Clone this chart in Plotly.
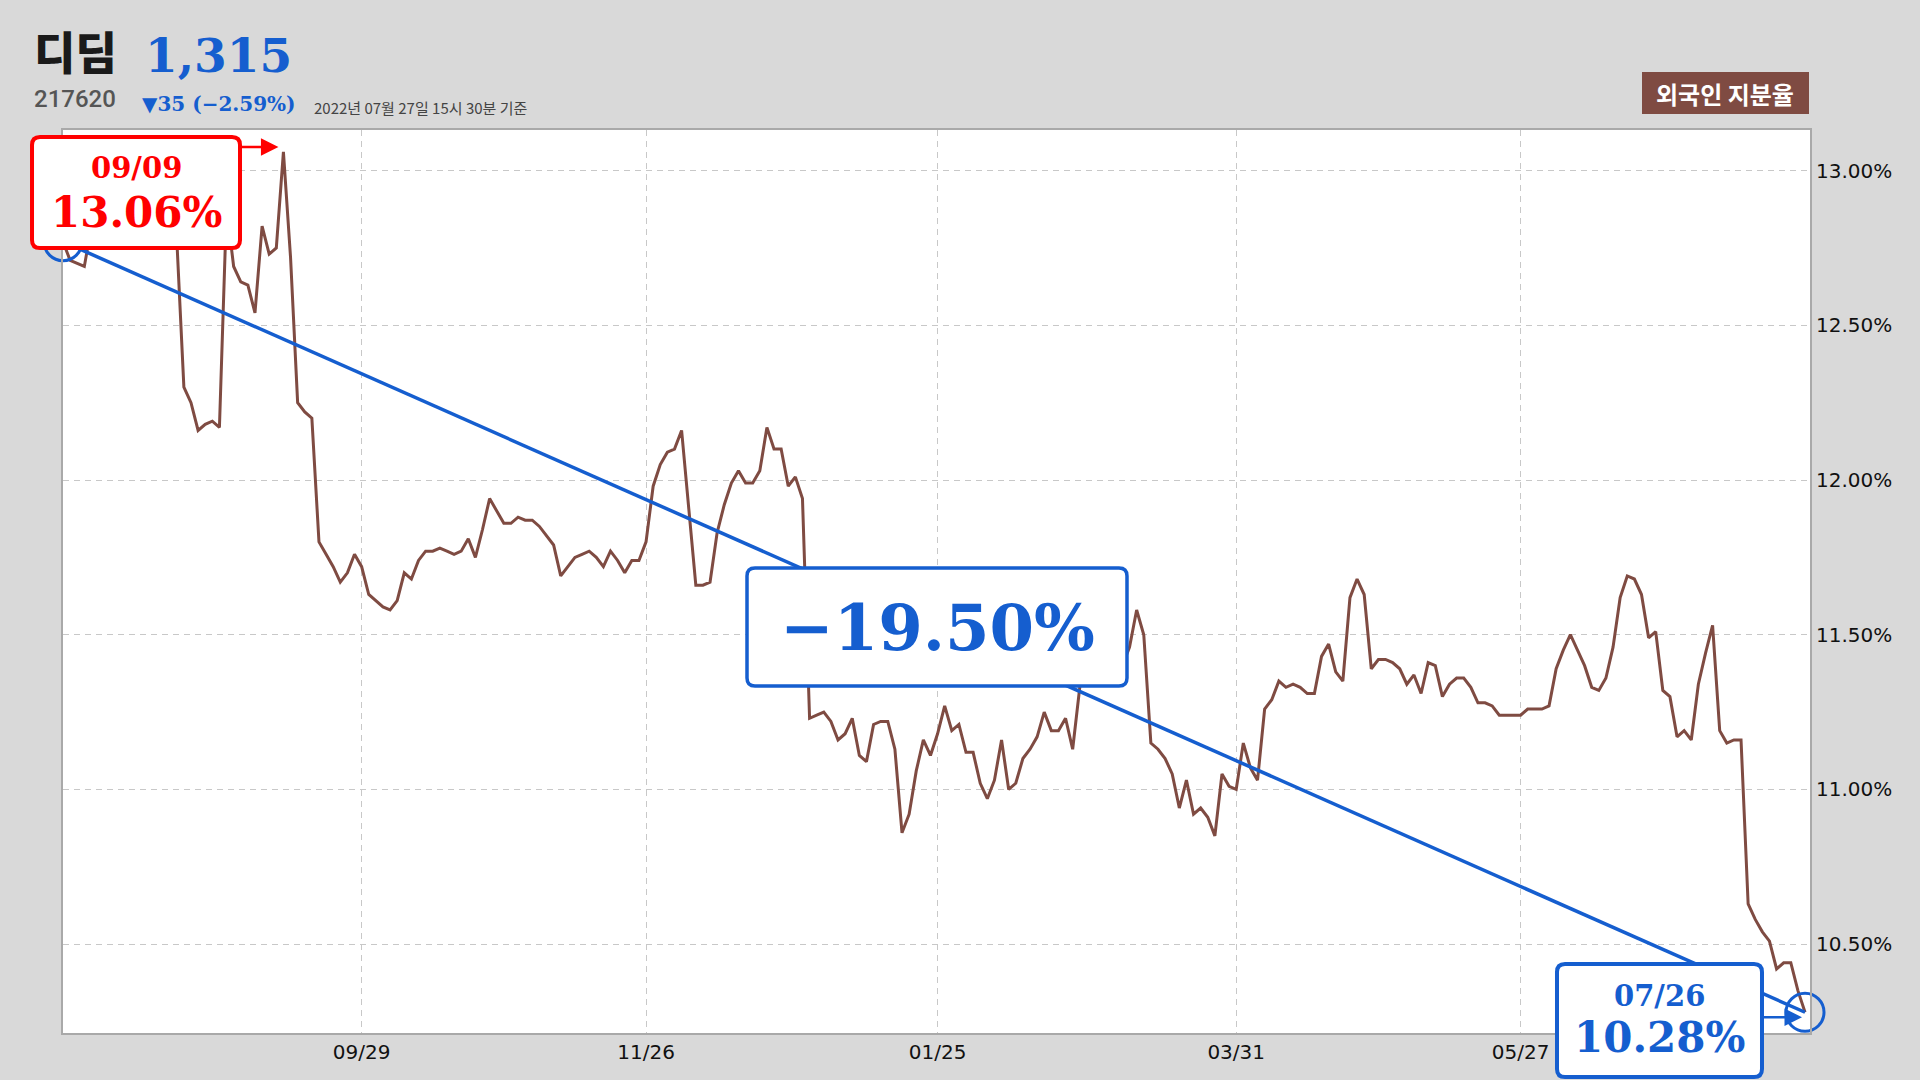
import plotly.graph_objects as go
import pandas as pd

# ---------------- data ----------------
krx_holidays = [
    "2021-08-16", "2021-09-20", "2021-09-21", "2021-09-22", "2021-10-04",
    "2021-10-11", "2021-12-31", "2022-01-31", "2022-02-01", "2022-02-02",
    "2022-03-01", "2022-03-09", "2022-05-05", "2022-06-01", "2022-06-06",
]
dates = [d.strftime("%Y-%m-%d") for d in pd.bdate_range("2021-07-27", "2022-07-26")
         if d.strftime("%Y-%m-%d") not in krx_holidays]

foreign_ratio = [
    12.77, 12.71, 12.70, 12.69, 12.82, 12.86, 12.84, 12.88, 12.90, 12.87,
    12.85, 12.88, 12.92, 12.89, 12.86, 12.84, 12.78, 12.30, 12.25, 12.16,
    12.18, 12.19, 12.17, 12.88, 12.69, 12.64, 12.63, 12.54, 12.82, 12.73,
    12.75, 13.06, 12.72, 12.25, 12.22, 12.20, 11.80, 11.76, 11.72, 11.67,
    11.70, 11.76, 11.72, 11.63, 11.61, 11.59, 11.58, 11.61, 11.70, 11.68,
    11.74, 11.77, 11.77, 11.78, 11.77, 11.76, 11.77, 11.81, 11.75, 11.84,
    11.94, 11.90, 11.86, 11.86, 11.88, 11.87, 11.87, 11.85, 11.82, 11.79,
    11.69, 11.72, 11.75, 11.76, 11.77, 11.75, 11.72, 11.77, 11.74, 11.70,
    11.74, 11.74, 11.80, 11.98, 12.05, 12.09, 12.10, 12.16, 11.91, 11.66,
    11.66, 11.67, 11.83, 11.92, 11.99, 12.03, 11.99, 11.99, 12.03, 12.17,
    12.10, 12.10, 11.98, 12.01, 11.94, 11.23, 11.24, 11.25, 11.22, 11.16,
    11.18, 11.23, 11.11, 11.09, 11.21, 11.22, 11.22, 11.13, 10.86, 10.92,
    11.06, 11.16, 11.11, 11.18, 11.27, 11.19, 11.21, 11.12, 11.12, 11.02,
    10.97, 11.03, 11.16, 11.00, 11.02, 11.10, 11.13, 11.17, 11.25, 11.19,
    11.19, 11.23, 11.13, 11.33, 11.45, 11.40, 11.42, 11.38, 11.44, 11.40,
    11.46, 11.58, 11.50, 11.15, 11.13, 11.10, 11.05, 10.94, 11.03, 10.92,
    10.94, 10.91, 10.85, 11.05, 11.01, 11.00, 11.15, 11.07, 11.03, 11.26,
    11.29, 11.35, 11.33, 11.34, 11.33, 11.31, 11.31, 11.43, 11.47, 11.38,
    11.35, 11.62, 11.68, 11.63, 11.39, 11.42, 11.42, 11.41, 11.39, 11.34,
    11.37, 11.31, 11.41, 11.40, 11.30, 11.34, 11.36, 11.36, 11.33, 11.28,
    11.28, 11.27, 11.24, 11.24, 11.24, 11.24, 11.26, 11.26, 11.26, 11.27,
    11.39, 11.45, 11.50, 11.45, 11.40, 11.33, 11.32, 11.36, 11.46, 11.62,
    11.69, 11.68, 11.63, 11.49, 11.51, 11.32, 11.30, 11.17, 11.19, 11.16,
    11.34, 11.44, 11.53, 11.19, 11.15, 11.16, 11.16, 10.63, 10.58, 10.54,
    10.51, 10.42, 10.44, 10.44, 10.35, 10.28,
]

tick_dates = ["2021-09-29", "2021-11-26", "2022-01-25", "2022-03-31", "2022-05-27"]
y_ticks = [10.5, 11.0, 11.5, 12.0, 12.5, 13.0]

stock_name = "디딤"
stock_code = "217620"
price_text = "1,315"
change_text = "▼35 (−2.59%)"
asof_text = "2022년 07월 27일 15시 30분 기준"
badge_text = "외국인 지분율"

# ---------------- derived ----------------
n = len(foreign_ratio)
xs = list(range(n))
tickvals = [dates.index(d) for d in tick_dates]
ticktext = [d[5:].replace("-", "/") for d in tick_dates]
y_ticktext = [f"{v:.2f}%" for v in y_ticks]
imax = max(range(n), key=lambda i: foreign_ratio[i])
vmax = foreign_ratio[imax]
v0, vl = foreign_ratio[0], foreign_ratio[-1]
chg = (vl / v0 - 1) * 100
chg_text = f"{chg:.2f}%".replace("-", "−")

BROWN = "#7f4b42"
BLUE = "#155ecf"
RED = "#ff0000"
BG = "#d9d9d9"

W, H = 1920, 1080
L, R, T, B = 63, 110, 130, 47
PW, PH = W - L - R, H - T - B


def fx(px):
    return (px - L) / PW


def fy(py):
    return (H - B - py) / PH


def rrect(x0, y0, x1, y1, r):
    def p(x, y):
        return f"{fx(x):.5f},{fy(y):.5f}"
    return (f"M {p(x0 + r, y0)} L {p(x1 - r, y0)} Q {p(x1, y0)} {p(x1, y0 + r)} "
            f"L {p(x1, y1 - r)} Q {p(x1, y1)} {p(x1 - r, y1)} "
            f"L {p(x0 + r, y1)} Q {p(x0, y1)} {p(x0, y1 - r)} "
            f"L {p(x0, y0 + r)} Q {p(x0, y0)} {p(x0 + r, y0)} Z")


fig = go.Figure()
fig.add_trace(go.Scatter(x=xs, y=foreign_ratio, mode="lines",
                         line=dict(color=BROWN, width=3), hoverinfo="skip"))
fig.add_trace(go.Scatter(x=[0, n - 1], y=[v0, vl], mode="lines",
                         line=dict(color=BLUE, width=3.5), hoverinfo="skip"))
fig.add_trace(go.Scatter(x=[0, n - 1], y=[v0, vl], mode="markers", cliponaxis=False,
                         marker=dict(symbol="circle-open", size=38, color=BLUE,
                                     line=dict(width=3, color=BLUE)),
                         hoverinfo="skip"))

shapes = [
    dict(type="path", xref="paper", yref="paper", path=rrect(32, 137, 240, 248, 8),
         fillcolor="white", line=dict(color=RED, width=4), layer="above"),
    dict(type="path", xref="paper", yref="paper", path=rrect(1557, 964, 1762, 1077, 8),
         fillcolor="white", line=dict(color=BLUE, width=4), layer="above"),
    dict(type="path", xref="paper", yref="paper", path=rrect(747, 568, 1127, 686, 8),
         fillcolor="white", line=dict(color=BLUE, width=3.5), layer="above"),
    dict(type="rect", xref="paper", yref="paper", x0=fx(1642), x1=fx(1809),
         y0=fy(114), y1=fy(72), fillcolor=BROWN, line=dict(width=0), layer="above"),
]

SERIF = "DejaVu Serif"
KR = "Noto Sans CJK KR"


def txt(text, px, py, size, color, family, weight="bold", xanchor="center"):
    return dict(text=text, x=fx(px), y=fy(py), xref="paper", yref="paper",
                xanchor=xanchor, yanchor="middle", showarrow=False,
                font=dict(size=size, color=color, family=family, weight=weight))


annotations = [
    txt(dates[imax][5:].replace("-", "/"), 136, 168, 29, RED, SERIF),
    txt(f"{vmax:.2f}%", 136, 213, 42, RED, SERIF),
    txt(dates[-1][5:].replace("-", "/"), 1659, 996, 29, BLUE, SERIF),
    txt(f"{vl:.2f}%", 1659, 1037, 42, BLUE, SERIF),
    txt(chg_text, 937, 627, 64, BLUE, SERIF),
    txt(stock_name, 32, 51, 45, "#1a1a1a", KR, weight=900, xanchor="left"),
    txt(price_text, 143, 56, 47, BLUE, SERIF, xanchor="left"),
    txt(stock_code, 32, 99, 24, "#555555", "Roboto", weight=500, xanchor="left"),
    txt(change_text, 140, 104, 20, BLUE, SERIF, xanchor="left"),
    txt(asof_text, 312, 107, 15, "#444444", KR, weight="normal", xanchor="left"),
    txt(badge_text, 1725, 93, 24, "white", KR),
    # arrows pointing to max and last
    dict(x=imax, y=vmax, xref="x", yref="y", text="", showarrow=True,
         ax=-38, ay=0, axref="pixel", ayref="pixel", xshift=-5, yshift=5,
         arrowcolor=RED, arrowwidth=2.5, arrowhead=2, arrowsize=1.4, standoff=0),
    dict(x=n - 1, y=vl, xref="x", yref="y", text="", showarrow=True,
         ax=-40, ay=0, axref="pixel", ayref="pixel", xshift=-3, yshift=-5,
         arrowcolor=BLUE, arrowwidth=2.5, arrowhead=2, arrowsize=1.4, standoff=0),
]

fig.update_layout(
    width=W, height=H, margin=dict(l=L, r=R, t=T, b=B, pad=0),
    paper_bgcolor=BG, plot_bgcolor="white", showlegend=False,
    shapes=shapes, annotations=annotations,
    font=dict(family="DejaVu Sans", size=20, color="#111111"),
    xaxis=dict(range=[0, n - 1 + 0.7], tickvals=tickvals, ticktext=ticktext,
               showgrid=True, gridcolor="#c8c8c8", griddash="6px,5px", gridwidth=1,
               zeroline=False, showline=True, linecolor="#a9a9a9", linewidth=2,
               mirror=True, ticks="", tickfont=dict(size=20, color="#111111")),
    yaxis=dict(range=[10.213, 13.131], side="right", tickvals=y_ticks,
               ticktext=y_ticktext, showgrid=True, gridcolor="#c8c8c8",
               griddash="6px,5px", gridwidth=1, zeroline=False, showline=True,
               linecolor="#a9a9a9", linewidth=2, mirror=True, ticks="",
               tickfont=dict(size=20, color="#111111")),
)

fig.write_html("out.html", config={"displayModeBar": False},
               post_script="document.body.style.margin='0';document.body.style.overflow='hidden';")
